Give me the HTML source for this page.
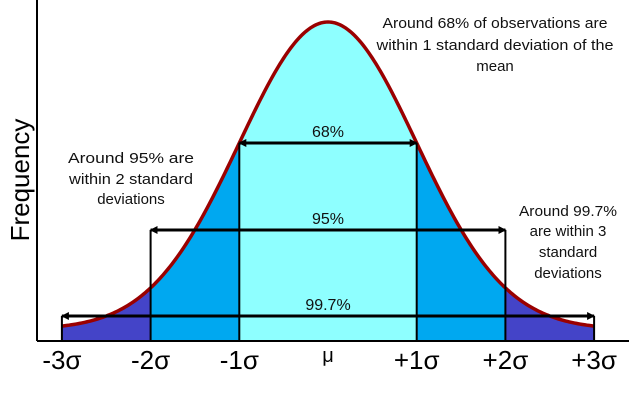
<!DOCTYPE html>
<html><head><meta charset="utf-8"><style>
html,body{margin:0;padding:0;background:#fff}
svg{display:block}
text{font-family:"Liberation Sans","DejaVu Sans",sans-serif}
</style></head><body>
<svg id="chart" width="629" height="400" viewBox="0 0 629 400">
<defs>
<marker id="ah" markerWidth="8" markerHeight="8" refX="7" refY="4" orient="auto-start-reverse" markerUnits="userSpaceOnUse">
<path d="M0,0 L8,4 L0,8 z" fill="#000"/></marker>
</defs>
<g id="fills"></g>
<g id="marks"></g>
<line x1="37" y1="0" x2="37" y2="341" stroke="#000" stroke-width="2"/>
<line x1="37" y1="341" x2="629" y2="341" stroke="#000" stroke-width="2"/>
<text transform="translate(29,180) rotate(-90)" text-anchor="middle" font-size="26">Frequency</text>
<g id="ticks"></g>
<g font-size="15" fill="#111" text-anchor="middle">
<text x="495" y="28" textLength="225" lengthAdjust="spacingAndGlyphs">Around 68% of observations are</text>
<text x="495" y="50" textLength="237" lengthAdjust="spacingAndGlyphs">within 1 standard deviation of the</text>
<text x="495" y="71">mean</text>
<text x="131" y="163" textLength="126" lengthAdjust="spacingAndGlyphs">Around 95% are</text>
<text x="131" y="184" textLength="124" lengthAdjust="spacingAndGlyphs">within 2 standard</text>
<text x="131" y="204">deviations</text>
<text x="568" y="216" textLength="98" lengthAdjust="spacingAndGlyphs">Around 99.7%</text>
<text x="568" y="236">are within 3</text>
<text x="568" y="257">standard</text>
<text x="568" y="278">deviations</text>
</g>
</svg>
<script>
const tickSigmas=[-3,-2,-1,0,1,2,3];
const tickLabels=["-3σ","-2σ","-1σ","μ","+1σ","+2σ","+3σ"];
const bandSigmas=[1,2,3];
const bandLabels=["68%","95%","99.7%"];
const bandColors=["#8effff","#00a8f0","#4444c8"];
const NS="http://www.w3.org/2000/svg";
const X0=328,SX=88.7,BASE=329.5,PEAK=22,AXY=341;
const xs=s=>X0+s*SX;
const ys=s=>BASE-(BASE-PEAK)*Math.exp(-s*s/2);
function mk(t,a,p){const e=document.createElementNS(NS,t);for(const k in a)e.setAttribute(k,a[k]);p.appendChild(e);return e;}
const fills=document.getElementById('fills'),marks=document.getElementById('marks'),ticks=document.getElementById('ticks');
function area(a,b){let d=`M${xs(a)},${AXY}`;for(let s=a;s<=b+1e-9;s+=0.02)d+=` L${xs(s)},${ys(s)}`;d+=` L${xs(b)},${AXY} Z`;return d;}
for(let i=bandSigmas.length-1;i>=0;i--){
 const k=bandSigmas[i];
 const p=mk('path',{d:area(-k,k),fill:bandColors[i]},fills);
 
 
}
let cd='';for(let s=-3;s<=3.0001;s+=0.02)cd+=(cd?' L':'M')+xs(s)+','+ys(s);
const cv=mk('path',{d:cd,fill:'none',stroke:'#9a0000','stroke-width':3.5},marks);


const arrowYs=[143,230,316];
bandSigmas.forEach((k,i)=>{
 const arrowY=arrowYs[i];
 [-k,k].forEach(s=>{
  const l=mk('line',{x1:xs(s),y1:arrowY,x2:xs(s),y2:AXY,stroke:'#000','stroke-width':2},marks);
  
  
 });
 const a=mk('line',{x1:xs(-k),y1:arrowY,x2:xs(k),y2:arrowY,stroke:'#000','stroke-width':3,'marker-start':'url(#ah)','marker-end':'url(#ah)'},marks);
 
 
 const t=mk('text',{x:X0,y:arrowY-6,'text-anchor':'middle','font-size':16,fill:'#111'},marks);
 t.textContent=bandLabels[i];
 
 
});
tickSigmas.forEach((s,i)=>{
 const t=mk('text',{x:xs(s),y:tickLabels[i]==="μ"?362:369,'text-anchor':'middle','font-size':tickLabels[i]==="μ"?20:26,fill:'#000'},ticks);
 t.textContent=tickLabels[i];
 
 
});
</script>
</body></html>
